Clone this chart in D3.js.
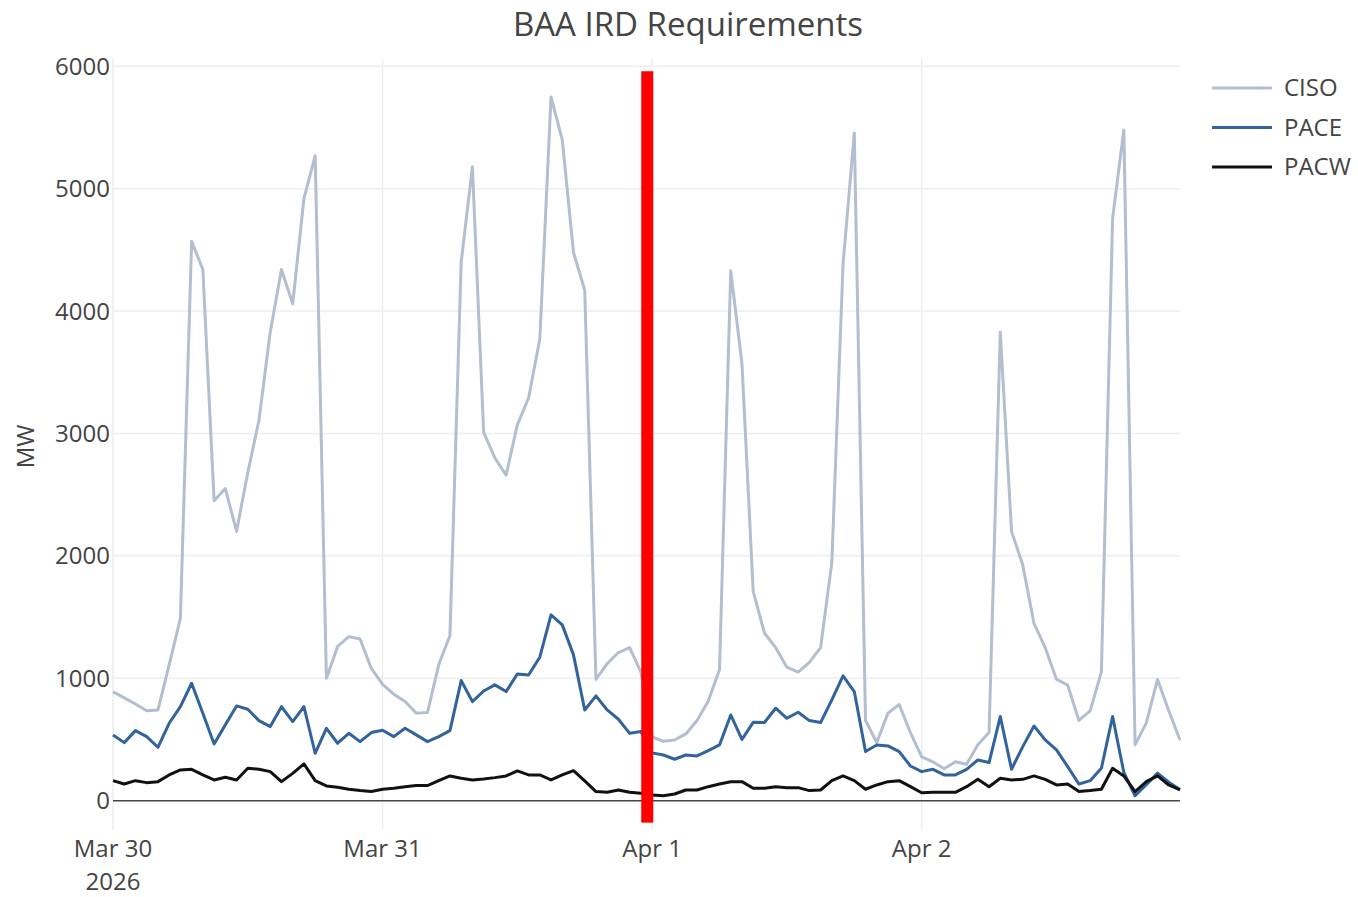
<!DOCTYPE html>
<html>
<head>
<meta charset="utf-8">
<script src="https://cdn.jsdelivr.net/npm/d3@7"></script>
<style>
  html, body { margin: 0; padding: 0; background: #fff; }
  svg { display: block; font-family: "Open Sans", sans-serif; }
</style>
</head>
<body>
<svg id="chart" width="1358" height="897"></svg>
<script>
// ---- data (hourly, starting 2026-03-30 00:00) ----
const startTime = "2026-03-30T00:00:00";
const seriesNames = ["CISO", "PACE", "PACW"];
const cisoValues = [
  890, 840, 790, 735, 740, 1110, 1490, 4570, 4340, 2450, 2550, 2200,
  2680, 3110, 3830, 4340, 4060, 4920, 5270, 1000, 1260, 1340, 1320, 1080,
  950, 870, 810, 715, 720, 1110, 1350, 4400, 5180, 3010, 2800, 2660,
  3070, 3290, 3770, 5750, 5400, 4480, 4170, 990, 1120, 1210, 1250, 1050,
  520, 485, 495, 545, 655, 815, 1070, 4330, 3570, 1710, 1370, 1250,
  1090, 1050, 1130, 1250, 1945, 4385, 5455, 655, 475, 715, 785, 555,
  357, 317, 260, 317, 298, 456, 556, 3830, 2200, 1925, 1448, 1250,
  992, 944, 655, 734, 1052, 4760, 5480, 456, 635, 990, 734, 496
];
const paceValues = [
  537, 474, 572, 523, 436, 632, 768, 959, 714, 463, 619, 774,
  747, 654, 605, 768, 646, 768, 387, 591, 469, 550, 482, 556,
  575, 523, 591, 537, 482, 523, 572, 981, 809, 896, 946, 891,
  1035, 1027, 1172, 1518, 1436, 1191, 741, 856, 741, 665, 550, 564,
  390, 373, 338, 373, 365, 409, 455, 700, 501, 640, 638, 755,
  673, 722, 654, 638, 823, 1019, 891, 401, 455, 447, 401, 283,
  237, 256, 210, 210, 256, 332, 311, 687, 256, 441, 610, 496,
  414, 278, 136, 163, 264, 687, 230, 40, 130, 225, 150, 90
];
const pacwValues = [
  163, 136, 163, 147, 155, 210, 251, 256, 210, 169, 191, 169,
  264, 256, 237, 155, 223, 300, 163, 120, 109, 93, 82, 74,
  93, 101, 114, 123, 123, 163, 202, 183, 169, 177, 188, 202,
  243, 210, 210, 169, 210, 245, 161, 74, 68, 87, 68, 60,
  45, 40, 54, 87, 87, 114, 136, 155, 155, 101, 101, 114,
  106, 106, 82, 87, 163, 202, 163, 93, 128, 155, 163, 114,
  64, 68, 68, 68, 114, 174, 114, 183, 169, 174, 202, 174,
  128, 136, 74, 82, 93, 264, 202, 74, 155, 202, 128, 87
];
const yTickValues = [0, 1000, 2000, 3000, 4000, 5000, 6000];
const xTickDates = ["2026-03-30T00:00:00", "2026-03-31T00:00:00", "2026-04-01T00:00:00", "2026-04-02T00:00:00"];
const xTickLabels = [["Mar 30", "2026"], ["Mar 31"], ["Apr 1"], ["Apr 2"]];
const markerTime = "2026-03-31T23:34:00";
const markerRange = [-180, 5960];
const titleText = "BAA IRD Requirements";
const yAxisTitle = "MW";

// ---- styles ----
const colors = { CISO: "#b3bed0", PACE: "#32639c", PACW: "#111111" };
const fontSize = 24;
const textColor = "#444";

const svg = d3.select("#chart");
const plot = { left: 113, right: 1180, top: 59, bottom: 830 };

const t0 = new Date(startTime);
const hour = 3600 * 1000;
const mkSeries = vals => vals.map((v, i) => ({ t: new Date(t0.getTime() + i * hour), v }));
const series = [
  { name: "CISO", data: mkSeries(cisoValues) },
  { name: "PACE", data: mkSeries(paceValues) },
  { name: "PACW", data: mkSeries(pacwValues) }
];

const x = d3.scaleTime()
  .domain([t0, new Date(t0.getTime() + (cisoValues.length - 1) * hour)])
  .range([plot.left, plot.right]);
const y = d3.scaleLinear().domain([-240, 6060]).range([plot.bottom, plot.top]);

// gridlines
const xTicks = xTickDates.map(d => new Date(d));
svg.append("g").selectAll("line").data(xTicks).join("line")
  .attr("x1", d => x(d)).attr("x2", d => x(d))
  .attr("y1", plot.top).attr("y2", plot.bottom)
  .attr("stroke", "#eeeeee").attr("stroke-width", 1.5);
svg.append("g").selectAll("line").data(yTickValues.filter(v => v !== 0)).join("line")
  .attr("x1", plot.left).attr("x2", plot.right)
  .attr("y1", d => y(d)).attr("y2", d => y(d))
  .attr("stroke", "#eeeeee").attr("stroke-width", 1.5);
// zero line
svg.append("line")
  .attr("x1", plot.left).attr("x2", plot.right)
  .attr("y1", y(0)).attr("y2", y(0))
  .attr("stroke", "#444").attr("stroke-width", 1.5);

// y tick labels
svg.append("g").selectAll("text").data(yTickValues).join("text")
  .attr("x", plot.left - 3).attr("y", d => y(d))
  .attr("dy", "0.35em").attr("text-anchor", "end")
  .attr("font-size", fontSize).attr("fill", textColor)
  .text(d => d);

// x tick labels (each line as its own text element)
const xLabelRows = [];
xTicks.forEach((d, i) => xTickLabels[i].forEach((s, j) => xLabelRows.push({ d, s, j })));
svg.append("g").selectAll("text").data(xLabelRows).join("text")
  .attr("x", r => x(r.d)).attr("y", r => 857 + r.j * 33)
  .attr("text-anchor", "middle")
  .attr("font-size", fontSize).attr("fill", textColor)
  .text(r => r.s);

// lines
const line = d3.line().x(d => x(d.t)).y(d => y(d.v));
svg.append("g").selectAll("path").data(series).join("path")
  .attr("d", d => line(d.data))
  .attr("fill", "none")
  .attr("stroke", d => colors[d.name])
  .attr("stroke-width", 3)
  .attr("stroke-linejoin", "round");

// red marker
const mt = new Date(markerTime);
svg.append("rect")
  .attr("x", x(mt) - 6).attr("width", 12)
  .attr("y", y(markerRange[1])).attr("height", y(markerRange[0]) - y(markerRange[1]))
  .attr("fill", "#ff0000");

// title
svg.append("text")
  .attr("x", 688).attr("y", 36)
  .attr("text-anchor", "middle")
  .attr("font-size", 33).attr("fill", textColor)
  .text(titleText);

// y axis title
svg.append("text")
  .attr("transform", `translate(34, ${(y(0) + y(6000)) / 2 + 13}) rotate(-90)`)
  .attr("text-anchor", "middle")
  .attr("font-size", fontSize).attr("fill", textColor)
  .text(yAxisTitle);

// legend
const lg = svg.append("g").selectAll("g").data(seriesNames).join("g")
  .attr("transform", (d, i) => `translate(1212, ${88 + i * 39.5})`);
lg.append("line").attr("x1", 0).attr("x2", 60).attr("y1", 0).attr("y2", 0)
  .attr("stroke", d => colors[d]).attr("stroke-width", 3);
lg.append("text").attr("x", 72).attr("y", 0).attr("dy", "0.35em")
  .attr("font-size", fontSize).attr("fill", textColor).text(d => d);
</script>
</body>
</html>
